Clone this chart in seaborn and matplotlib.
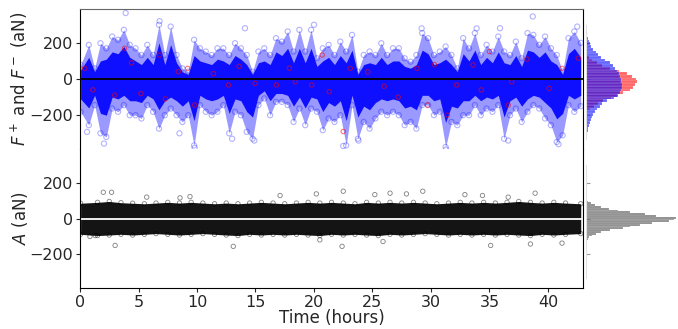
import numpy as np
import pandas as pd
import matplotlib
matplotlib.use("Agg")
import matplotlib.pyplot as plt
import seaborn as sns

sns.set_style("ticks")
plt.rcParams["font.family"] = ["DejaVu Sans"]
plt.rcParams["font.size"] = 12

# ---- data ----
# blue series (F-): outer extent and dense core of the cloud, per half hour
t_half = [0.05, 0.75, 1.25, 1.75, 2.25, 2.75, 3.25, 3.75, 4.25, 4.75,
          5.25, 5.75, 6.25, 6.75, 7.25, 7.75, 8.25, 8.75, 9.25, 9.75,
          10.25, 10.75, 11.25, 11.75, 12.25, 12.75, 13.25, 13.75, 14.25, 14.75,
          15.25, 15.75, 16.25, 16.75, 17.25, 17.75, 18.25, 18.75, 19.25, 19.75,
          20.25, 20.75, 21.25, 21.75, 22.25, 22.75, 23.25, 23.75, 24.25, 24.75,
          25.25, 25.75, 26.25, 26.75, 27.25, 27.75, 28.25, 28.75, 29.25, 29.75,
          30.25, 30.75, 31.25, 31.75, 32.25, 32.75, 33.25, 33.75, 34.25, 34.75,
          35.25, 35.75, 36.25, 36.75, 37.25, 37.75, 38.25, 38.75, 39.25, 39.75,
          40.25, 40.75, 41.25, 41.75, 42.25, 42.8]
blue_hi = [78, 189, 59, 198, 170, 235, 217, 272, 189, 170,
           133, 189, 133, 300, 133, 290, 133, 59, 41, 217,
           170, 152, 133, 170, 170, 133, 198, 170, 133, 41,
           152, 170, 133, 226, 207, 263, 152, 272, 152, 272,
           115, 170, 189, 133, 207, 152, 244, 41, 133, 152,
           133, 198, 133, 170, 170, 115, 96, 133, 254, 226,
           133, 152, 180, 133, 59, 226, 170, 254, 133, 189,
           152, 235, 152, 133, 207, 115, 254, 244, 189, 235,
           170, 133, 41, 226, 263, 200]
blue_lo = [-181, -255, -144, -300, -320, -163, -181, -144, -200, -200,
           -218, -144, -181, -274, -200, -163, -200, -237, -200, -367,
           -144, -181, -200, -181, -144, -300, -181, -200, -292, -330,
           -144, -107, -200, -126, -126, -144, -237, -163, -255, -163,
           -181, -283, -218, -237, -200, -367, -144, -330, -237, -274,
           -218, -181, -200, -181, -200, -255, -237, -274, -144, -144,
           -200, -181, -376, -237, -255, -200, -200, -144, -200, -163,
           -181, -144, -330, -200, -163, -237, -181, -144, -163, -218,
           -255, -348, -311, -144, -181, -150]
core_hi = [50, 120, 40, 100, 110, 150, 140, 180, 120, 100,
           80, 120, 80, 200, 80, 190, 90, 40, 25, 130,
           100, 90, 80, 110, 100, 80, 130, 110, 80, 25,
           90, 100, 80, 150, 130, 170, 90, 170, 90, 170,
           70, 100, 120, 80, 130, 90, 160, 25, 80, 90,
           80, 120, 80, 100, 100, 70, 60, 80, 160, 140,
           80, 90, 110, 80, 40, 140, 100, 160, 80, 120,
           90, 150, 90, 80, 130, 70, 160, 150, 120, 150,
           100, 80, 25, 140, 170, 120]
core_lo = [-110, -160, -90, -190, -200, -100, -110, -90, -120, -120,
           -130, -90, -110, -170, -120, -100, -120, -150, -120, -230,
           -90, -110, -120, -110, -90, -190, -110, -120, -180, -210,
           -90, -65, -120, -80, -80, -90, -150, -100, -160, -100,
           -110, -180, -130, -150, -120, -230, -90, -210, -150, -170,
           -130, -110, -120, -110, -120, -160, -150, -170, -90, -90,
           -120, -110, -240, -150, -160, -120, -120, -90, -120, -100,
           -110, -90, -210, -120, -100, -150, -110, -90, -100, -130,
           -160, -220, -190, -90, -110, -90]
# isolated blue points outside the cloud
blue_out_t = [3.9, 2.05, 8.5, 9.8, 14.1, 13.0, 14.9, 20.0, 22.5, 23.8,
              31.3, 29.2, 38.7, 36.6, 40.9, 42.5, 35.9, 33.9, 0.6, 6.8]
blue_out_v = [365, -357, -300, -380, 281, -330, -340, 300, -370, -340,
              -390, 280, 346, -340, -360, 290, 281, 280, -292, 320]

# red series (F+): points visible through the blue cloud
red_t = [0.4, 1.1, 2.97, 3.8, 6.8, 8.4, 9.2, 9.8, 12.7, 14.97,
         16.8, 18.4, 19.8, 20.7, 22.5, 23.1, 28.8, 29.7, 31.4, 32.2,
         33.6, 35.0, 36.6, 36.9, 40.1, 41.2, 42.6, 5.2, 11.4, 26.0,
         4.4, 7.3, 13.6, 17.9, 21.3, 24.6, 27.2, 30.3, 34.3, 38.2]
red_v = [59, -60, -89, 170, 133, 41, 59, -144, -33, -24,
         -33, -15, -33, 133, -290, 59, 59, -144, -200, -33,
         78, 152, -144, -15, -52, 59, 115, -80, 30, -40,
         90, -110, 70, 60, -70, 40, -100, 80, -60, 110]

# A: extent of the dense black band, per hour
t_hour = [0.05, 1.5, 2.5, 3.5, 4.5, 5.5, 6.5, 7.5, 8.5, 9.5,
          10.5, 11.5, 12.5, 13.5, 14.5, 15.5, 16.5, 17.5, 18.5, 19.5,
          20.5, 21.5, 22.5, 23.5, 24.5, 25.5, 26.5, 27.5, 28.5, 29.5,
          30.5, 31.5, 32.5, 33.5, 34.5, 35.5, 36.5, 37.5, 38.5, 39.5,
          40.5, 41.5, 42.8]
a_hi = [85, 90, 95, 88, 85, 82, 86, 90, 86, 90,
        86, 82, 86, 82, 86, 90, 86, 82, 86, 90,
        86, 90, 86, 82, 90, 86, 90, 86, 90, 86,
        82, 86, 90, 86, 90, 86, 90, 95, 90, 86,
        90, 86, 82]
a_lo = [-88, -95, -92, -88, -92, -88, -84, -88, -92, -88,
        -84, -88, -92, -95, -88, -92, -88, -92, -88, -92,
        -95, -88, -92, -88, -92, -95, -88, -92, -88, -84,
        -88, -92, -88, -92, -88, -92, -88, -92, -95, -88,
        -92, -88, -84]
a_out_t = [1.99, 2.7, 3.0, 0.85, 1.3, 5.7, 8.55, 9.4, 13.1, 17.1,
           20.2, 22.5, 22.4, 25.2, 25.9, 26.5, 27.9, 29.3, 20.5, 32.9,
           34.4, 35.1, 38.9, 41.2, 38.5, 36.6]
a_out_v = [146, 146, -150, -100, -95, 119, 115, 122, -155, 128,
           137, 152, -155, 133, -128, 141, 137, 152, -119, 133,
           128, -150, 141, -137, -142, 119]

# marginal histograms (bar lengths)
blue_bins = [-330, -315, -300, -285, -270, -255, -240, -225, -210, -195,
             -180, -165, -150, -135, -120, -105, -90, -75, -60, -45,
             -30, -15, 0, 15, 30, 45, 60, 75, 90, 105,
             120, 135, 150, 165, 180, 195, 210, 225, 240, 255]
blue_counts = [0.5, 1, 1.5, 2, 2.5, 3, 4, 5, 6, 7.5,
               9, 11, 14, 17, 22, 29, 33, 35, 36, 36.5,
               37, 36, 35.5, 35, 34, 32, 30, 28, 25, 20,
               16, 12, 10, 7, 5, 4, 3, 2, 1.5, 0.8]
red_bins = [-165, -150, -135, -120, -105, -90, -75, -60, -45, -30,
            -15, 0, 15, 30, 45, 60, 75, 90, 105, 120]
red_counts = [4, 8, 12, 18, 26, 32, 38, 45, 48, 50,
              52, 51, 47, 42, 34, 25, 17, 11, 6, 3]
a_bins = [-155, -145, -135, -125, -115, -105, -95, -85, -75, -65,
          -55, -45, -35, -25, -15, -5, 5, 15, 25, 35,
          45, 55, 65, 75, 85, 95, 105]
a_counts = [0.3, 0.4, 0.6, 1, 2, 3, 6, 10, 16, 25,
            38, 45, 55, 68, 85, 90, 92, 72, 60, 45,
            33, 24, 15, 9, 5, 2, 1]


def marginal(ax, centers, counts, width, **kws):
    df = pd.DataFrame({"v": centers, "w": counts})
    sns.histplot(data=df, y="v", weights="w", binwidth=width,
                 binrange=(min(centers) - width / 2, max(centers) + width / 2),
                 ax=ax, edgecolor="white", linewidth=0.1, **kws)


def rings(ax, x, y, color, s, lw, alpha):
    sns.scatterplot(x=x, y=y, ax=ax, color=color, facecolor="none",
                    edgecolor=color, s=s, linewidth=lw, alpha=alpha)


fig = plt.figure(figsize=(6.78, 3.29), dpi=100)
ax1 = fig.add_axes([0.118, 0.547, 0.742, 0.4255])
ax2 = fig.add_axes([0.118, 0.1246, 0.742, 0.4225])
hx1 = fig.add_axes([0.864, 0.547, 0.136, 0.4255])
hx2 = fig.add_axes([0.864, 0.1246, 0.136, 0.4225])

# top panel: F+ and F-
ax1.fill_between(t_half, blue_lo, blue_hi, color="blue", alpha=0.4, lw=0)
ax1.fill_between(t_half, core_lo, core_hi, color="blue", alpha=0.9, lw=0)
rings(ax1, t_half, blue_hi, "blue", 14, 0.8, 0.3)
rings(ax1, t_half, blue_lo, "blue", 14, 0.8, 0.3)
rings(ax1, blue_out_t, blue_out_v, "blue", 14, 0.8, 0.3)
rings(ax1, red_t, red_v, "red", 10, 0.8, 0.55)
ax1.axhline(0, color="black", lw=1.3)

# bottom panel: A
ax2.fill_between(t_hour, a_lo, a_hi, color="black", alpha=0.92, lw=0)
rings(ax2, t_hour, a_hi, "black", 10, 0.6, 0.5)
rings(ax2, t_hour, a_lo, "black", 10, 0.6, 0.5)
rings(ax2, a_out_t, a_out_v, "black", 10, 0.6, 0.5)
ax2.axhline(0, color="white", lw=1.3)

for ax in (ax1, ax2):
    ax.set_xlim(0, 43)
    ax.set_ylim(-387, 387)
    ax.set_yticks([-200, 0, 200])
    ax.tick_params(labelsize=11.5, length=3, pad=2)
    for s in ax.spines.values():
        s.set_color("black")
ax1.set_xticks([])
ax1.spines["bottom"].set_visible(False)
ax1.spines["top"].set_color("0.4")
ax2.spines["top"].set_visible(False)
ax2.set_xticks([0, 5, 10, 15, 20, 25, 30, 35, 40])
ax1.set_ylabel("$F^+$ and $F^-$ (aN)")
ax2.set_ylabel("$A$ (aN)")
ax1.yaxis.set_label_coords(-0.1, 0.5)
ax2.yaxis.set_label_coords(-0.1, 0.5)
ax2.set_xlabel("Time (hours)", labelpad=-1)

# marginal histograms
marginal(hx1, red_bins, red_counts, 15, color="red", alpha=0.6)
marginal(hx1, blue_bins, blue_counts, 15, color="blue", alpha=0.6)
marginal(hx2, a_bins, a_counts, 10, color="black", alpha=0.45)

for hx in (hx1, hx2):
    hx.set_xlim(0, 94)
    hx.set_ylim(-387, 387)
    hx.set_yticks([-200, 0, 200])
    hx.set_yticklabels([])
    hx.set_xticks([])
    hx.set_xlabel("")
    hx.set_ylabel("")
    for s in ("top", "right", "bottom"):
        hx.spines[s].set_visible(False)
    hx.spines["left"].set_color("0.88")
    hx.spines["left"].set_bounds(-330, 300)
    hx.tick_params(axis="y", direction="in", length=3, color="0.6")

fig.savefig("out.png", dpi=100)
